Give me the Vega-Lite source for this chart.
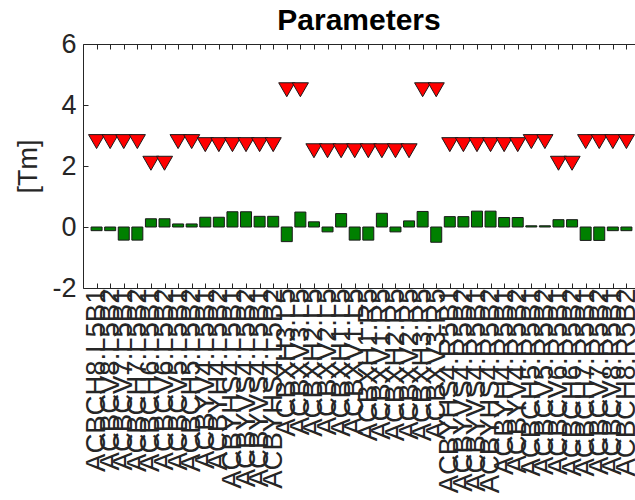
{
  "$schema": "https://vega.github.io/schema/vega-lite/v6.json",
  "autosize": {"type": "none"},
  "width": 552,
  "height": 244,
  "padding": {"left": 83, "top": 44, "right": 0, "bottom": 212},
  "background": "white",
  "title": {"text": "Parameters", "fontSize": 30, "font": "Liberation Sans", "fontWeight": "bold", "color": "#000000", "anchor": "middle", "offset": -6},
  "config": {
    "view": {"stroke": null},
    "axis": {"labelFont": "Liberation Sans", "titleFont": "Liberation Sans", "domainColor": "#262626", "tickColor": "#262626", "labelColor": "#262626", "titleColor": "#262626", "grid": false, "domainWidth": 1, "tickWidth": 1}
  },
  "data": {"values": [
    {"name": "ACBCH8.L5B1", "kick": -0.12, "limit": 2.8},
    {"name": "ACBCV8.L5B2", "kick": -0.12, "limit": 2.8},
    {"name": "ACBCV7.L5B1", "kick": -0.43, "limit": 2.8},
    {"name": "ACBCH7.L5B2", "kick": -0.43, "limit": 2.8},
    {"name": "ACBCH6.L5B1", "kick": 0.27, "limit": 2.09},
    {"name": "ACBCV6.L5B2", "kick": 0.27, "limit": 2.09},
    {"name": "ACBCV5.L5B1", "kick": 0.1, "limit": 2.8},
    {"name": "ACBCH5.L5B2", "kick": 0.1, "limit": 2.8},
    {"name": "ACBYV4.L5B1", "kick": 0.32, "limit": 2.7},
    {"name": "ACBYH4.L5B2", "kick": 0.32, "limit": 2.7},
    {"name": "ACBYHS4.L5B1", "kick": 0.5, "limit": 2.7},
    {"name": "ACBYVS4.L5B2", "kick": 0.5, "limit": 2.7},
    {"name": "ACBYVS4.L5B1", "kick": 0.35, "limit": 2.7},
    {"name": "ACBYHS4.L5B2", "kick": 0.35, "limit": 2.7},
    {"name": "ACBXH3.L5", "kick": -0.48, "limit": 4.5},
    {"name": "ACBXV3.L5", "kick": 0.49, "limit": 4.5},
    {"name": "ACBXH2.L5", "kick": 0.17, "limit": 2.5},
    {"name": "ACBXV2.L5", "kick": -0.16, "limit": 2.5},
    {"name": "ACBXH1.L5", "kick": 0.44, "limit": 2.5},
    {"name": "ACBXV1.L5", "kick": -0.43, "limit": 2.5},
    {"name": "ACBXH1.R5", "kick": -0.43, "limit": 2.5},
    {"name": "ACBXV1.R5", "kick": 0.45, "limit": 2.5},
    {"name": "ACBXH2.R5", "kick": -0.16, "limit": 2.5},
    {"name": "ACBXV2.R5", "kick": 0.2, "limit": 2.5},
    {"name": "ACBXH3.R5", "kick": 0.51, "limit": 4.5},
    {"name": "ACBXV3.R5", "kick": -0.5, "limit": 4.5},
    {"name": "ACBYHS4.R5B1", "kick": 0.34, "limit": 2.7},
    {"name": "ACBYVS4.R5B2", "kick": 0.34, "limit": 2.7},
    {"name": "ACBYVS4.R5B1", "kick": 0.52, "limit": 2.7},
    {"name": "ACBYHS4.R5B2", "kick": 0.52, "limit": 2.7},
    {"name": "ACBYH4.R5B1", "kick": 0.31, "limit": 2.7},
    {"name": "ACBYV4.R5B2", "kick": 0.31, "limit": 2.7},
    {"name": "ACBCH5.R5B1", "kick": 0.04, "limit": 2.8},
    {"name": "ACBCV5.R5B2", "kick": 0.04, "limit": 2.8},
    {"name": "ACBCV6.R5B1", "kick": 0.24, "limit": 2.09},
    {"name": "ACBCH6.R5B2", "kick": 0.24, "limit": 2.09},
    {"name": "ACBCH7.R5B1", "kick": -0.44, "limit": 2.8},
    {"name": "ACBCV7.R5B2", "kick": -0.44, "limit": 2.8},
    {"name": "ACBCV8.R5B1", "kick": -0.12, "limit": 2.8},
    {"name": "ACBCH8.R5B2", "kick": -0.12, "limit": 2.8}
  ]},
  "layer": [
    {
      "mark": {"type": "bar", "size": 11, "color": "#008000", "stroke": "#1a1a1a", "strokeWidth": 1},
      "encoding": {
        "x": {"field": "name", "type": "nominal", "sort": null,
          "scale": {"type": "point", "padding": 1, "range": [0, 557]},
          "axis": {"orient": "bottom", "title": null, "labelAngle": -90, "labelAlign": "right", "labelBaseline": "middle", "labelFontSize": 27.5, "labelPadding": 5, "labelLimit": 0, "labelOverlap": false, "tickSize": -5, "domain": true}},
        "y": {"field": "kick", "type": "quantitative",
          "scale": {"domain": [-2, 6], "nice": false, "zero": false},
          "axis": {"orient": "left", "title": "[Tm]", "titleFontSize": 27, "titleFontWeight": "normal", "titlePadding": 9, "labelFontSize": 27, "labelPadding": 12, "values": [-2, 0, 2, 4, 6], "tickSize": -5, "labelExpr": "'' + datum.value"}}
      }
    },
    {
      "mark": {"type": "point", "shape": "triangle-down", "size": 260, "filled": true, "color": "#ff0000", "stroke": "#1a1a1a", "strokeWidth": 1, "opacity": 1},
      "encoding": {
        "x": {"field": "name", "type": "nominal", "sort": null,
          "axis": {"orient": "top", "title": null, "labels": false, "tickSize": -5, "domain": true}},
        "y": {"field": "limit", "type": "quantitative",
          "axis": {"orient": "right", "title": null, "labels": false, "values": [-2, 0, 2, 4, 6], "tickSize": -5, "offset": 5, "domain": true}}
      }
    }
  ]
}
